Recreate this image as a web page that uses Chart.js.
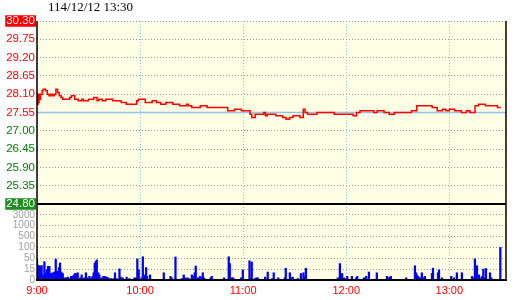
<!DOCTYPE html>
<html>
<head>
<meta charset="utf-8">
<script src="https://cdn.jsdelivr.net/npm/chart.js@4.4.1/dist/chart.umd.min.js"></script>
<style>
    html, body { margin: 0; padding: 0; background: #fff; }
    #wrap { width: 520px; height: 300px; }
</style>
</head>
<body>
<div id="wrap"><canvas id="chart" width="520" height="300"></canvas></div>
<script>
const TITLE = '114/12/12 13:30';
const PREV_CLOSE = 27.55;

// x axis is minutes after 9:00
const hourTicks = [0, 60, 120, 180, 240];
const hourLabels = ['9:00', '10:00', '11:00', '12:00', '13:00'];
const priceTicks = [24.80, 25.35, 25.90, 26.45, 27.00, 27.55, 28.10, 28.65, 29.20, 29.75, 30.30];

// price changes (minute, price)
const priceTimes = [0, 0.3, 0.6, 0.9, 1.2, 1.5, 2, 3, 3.5, 5,
    6, 7, 8, 9, 10, 11, 12, 13, 14, 15,
    19, 20, 22, 24, 26, 27, 30, 33, 35, 36,
    38, 40, 44, 49, 52, 58, 59, 63, 67, 69.5,
    72, 75, 79, 83, 87, 88, 90, 95, 99, 111,
    115, 119, 124, 125, 127, 130, 132, 133, 134, 139,
    143, 145, 147, 149, 153, 155, 156, 157.5, 163, 173,
    184, 186, 188, 196, 198, 202, 205, 208, 218, 221,
    230, 233, 236, 238, 240, 243, 247, 250, 252, 255,
    257, 261, 268, 270];
const priceValues = [28.05, 27.80, 28.10, 27.85, 28.10, 27.95, 28.10, 28.20, 28.25, 28.20,
    28.10, 28.05, 28.10, 28.05, 28.10, 28.25, 28.15, 28.05, 28.00, 27.95,
    28.00, 28.05, 27.95, 27.90, 27.95, 27.90, 27.95, 28.00, 27.90, 27.95,
    27.90, 27.95, 27.90, 27.85, 27.80, 27.90, 27.95, 27.85, 27.90, 27.85,
    27.80, 27.85, 27.80, 27.75, 27.80, 27.75, 27.70, 27.75, 27.70, 27.60,
    27.65, 27.60, 27.50, 27.40, 27.50, 27.50, 27.55, 27.45, 27.50, 27.45,
    27.40, 27.35, 27.40, 27.45, 27.40, 27.65, 27.55, 27.50, 27.55, 27.50,
    27.45, 27.55, 27.60, 27.55, 27.60, 27.55, 27.50, 27.55, 27.60, 27.75,
    27.70, 27.60, 27.65, 27.60, 27.65, 27.60, 27.55, 27.60, 27.55, 27.75,
    27.80, 27.75, 27.70, 27.70];

// volume bars (minute, lots)
const volTimes = [0, 1, 1.7, 2.7, 3.3, 4.3, 4.9, 5.6, 6.4, 7.2,
    8, 8.5, 9.1, 10.1, 10.9, 11.5, 12.2, 12.8, 13.4, 14.2,
    15, 15.9, 16.9, 17.9, 18.8, 19.8, 20.6, 21.4, 22.1, 22.9,
    23.7, 24.3, 25.2, 26, 26.8, 27.6, 28.5, 29.3, 30.5, 31.7,
    32.4, 33, 33.6, 34.2, 34.8, 35.7, 36.3, 37.5, 38.6, 39.6,
    40.6, 41.6, 43.1, 44.7, 45.4, 46.4, 48, 48.7, 49.9, 52.2,
    53.8, 55.3, 56.7, 57.7, 58.4, 59.2, 60.8, 61.6, 62.7, 63.5,
    64.1, 65.8, 73.8, 77.7, 78.4, 80.6,
    84.4, 85.4, 86.2, 86.8, 87.7, 88.3, 90.1, 91.2, 91.8, 92.4,
    93.8, 94.9, 95.5, 96.5, 97.3, 101.1, 101.7, 106.6, 107.7, 108.9,
    111.6, 112.2, 113.4, 114.2, 115.1, 118.8, 119.8, 123.7, 124.4, 125,
    126, 127, 127.7, 128.5, 132.8, 134.3, 136.9, 137.8, 140.4, 144.2,
    144.8, 147.2, 148.1, 148.9, 151.8, 153.6, 155.1, 155.7, 156.5, 157.6,
    164.1, 167.9, 173, 175.1, 176.3, 177.6, 178.6, 179.6, 180.6,
    183.3, 185.8, 186.4, 188.5, 190.3, 191.6, 193.2, 195.5, 197.8, 203.7,
    204.6, 205.2, 206, 214.9, 220, 220.6, 221.1, 221.9, 222.9, 224,
    224.8, 225.8, 226.6, 229.9, 230.5, 233.4, 234, 235.7, 236.9, 238.6,
    241.1, 242.7, 244.4, 245, 247.3, 248.5, 251.6, 253.2, 254.1, 254.9,
    255.5, 256.1, 257.3, 258.6, 259.2, 259.8, 260.4, 261.3, 262.1, 263.7,
    264.5, 269.7];
const volValues = [48, 27, 24, 27, 7, 39, 9, 14, 24, 24,
    9, 7, 10, 11, 47, 12, 11, 20, 35, 11,
    9, 3, 3, 4, 2, 5, 5, 7, 9, 9,
    10, 1, 3, 7, 2, 3, 10, 3, 5, 3,
    5, 10, 34, 40, 45, 10, 7, 3, 5, 5,
    4, 3, 2, 2, 10, 2, 16, 4, 3, 4,
    2, 1, 3, 3, 48, 14, 3, 57, 7, 20,
    5, 7, 10, 5, 3, 56,
    2, 7, 3, 2, 3, 2, 7, 5, 10, 25,
    3, 5, 4, 10, 3, 3, 5, 1, 1, 3,
    57, 33, 3, 3, 1, 3, 14, 42, 3, 38,
    1, 2, 3, 3, 4, 11, 2, 10, 3, 3,
    18, 10, 3, 4, 2, 9, 10, 5, 18, 1,
    1, 1, 1, 3, 33, 9, 3, 2, 5,
    5, 3, 5, 1, 3, 5, 11, 1, 10, 5,
    2, 4, 5, 3, 26, 10, 7, 5, 3, 10,
    3, 5, 1, 9, 18, 10, 14, 3, 1, 1,
    5, 3, 10, 1, 10, 1, 1, 5, 3, 48,
    10, 26, 7, 3, 5, 15, 3, 17, 1, 10,
    3, 100];

// volume axis is piecewise: each tick gets the same height
const volTicks = [0, 15, 50, 100, 500, 1000, 3000, 5000];
const volTickLabels = ['0', '15', '50', '100', '500', '1000', '3000', ''];

const UP_RED = '#ff0000';
const DOWN_GREEN = '#008000';

function volLevel(v) {
    for (let i = 1; i < volTicks.length; i++) {
        if (v <= volTicks[i]) return i - 1 + (v - volTicks[i - 1]) / (volTicks[i] - volTicks[i - 1]);
    }
    return volTicks.length - 1;
}

function hline(ctx, x1, x2, y) {
    ctx.beginPath(); ctx.moveTo(x1, y); ctx.lineTo(x2, y); ctx.stroke();
}
function vline(ctx, x, y1, y2) {
    ctx.beginPath(); ctx.moveTo(x, y1); ctx.lineTo(x, y2); ctx.stroke();
}

const frame = {
    id: 'frame',
    beforeDraw(chart) {
        const { ctx, chartArea: a } = chart;
        ctx.save();
        ctx.fillStyle = '#ffffe6';
        ctx.fillRect(a.left, a.top, a.right - a.left, a.bottom - a.top);
        ctx.restore();
    },
    beforeDatasetsDraw(chart) {
        const { ctx, chartArea: a, scales } = chart;
        ctx.save();
        ctx.strokeStyle = '#8ec3e6';
        ctx.lineWidth = 1.5;
        hline(ctx, a.left, a.right, scales.y.getPixelForValue(PREV_CLOSE));
        ctx.restore();
    },
    afterDatasetsDraw(chart) {
        const { ctx, chartArea: a, scales } = chart;
        ctx.save();
        ctx.strokeStyle = '#000';
        ctx.lineWidth = 2;
        hline(ctx, a.left, a.right, scales.y.getPixelForValue(priceTicks[0]));
        hline(ctx, a.left - 1, a.right + 1, a.bottom);
        ctx.lineWidth = 1.5;
        vline(ctx, a.left, a.top, a.bottom);
        vline(ctx, a.right, a.top, a.bottom);
        ctx.restore();
    },
    afterDraw(chart) {
        const ctx = chart.ctx;
        ctx.save();
        ctx.fillStyle = '#000';
        ctx.font = '13px "Liberation Serif"';
        ctx.textBaseline = 'middle';
        ctx.fillText(TITLE, 48, 8);
        ctx.restore();
    }
};

const clear = 'rgba(0,0,0,0)';

new Chart(document.getElementById('chart'), {
    type: 'line',
    data: {
        datasets: [
            {
                type: 'line',
                data: priceTimes.map((t, i) => ({ x: t, y: priceValues[i] })),
                yAxisID: 'y',
                borderColor: UP_RED,
                borderWidth: 1.5,
                stepped: true,
                pointRadius: 0,
                fill: false,
                order: 1
            },
            {
                type: 'bar',
                data: volTimes.map((t, i) => ({ x: t, y: volLevel(volValues[i]) })),
                yAxisID: 'vol',
                backgroundColor: '#0000ff',
                barThickness: 1.6,
                order: 2
            }
        ]
    },
    options: {
        responsive: false,
        animation: false,
        devicePixelRatio: 1,
        layout: { padding: { left: 0, right: 14, top: 21, bottom: 0 } },
        plugins: { legend: { display: false }, tooltip: { enabled: false } },
        scales: {
            x: {
                type: 'linear',
                min: 0,
                max: 273,
                offset: false,
                afterBuildTicks: s => { s.ticks = hourTicks.map(v => ({ value: v })); },
                afterFit: s => { s.height = 20; },
                grid: { color: '#8cbfe0', offset: false, drawTicks: false },
                border: { display: false, dash: [1, 2] },
                ticks: {
                    autoSkip: false,
                    maxRotation: 0,
                    padding: 4,
                    color: UP_RED,
                    font: { family: 'Liberation Sans', size: 11 },
                    callback: v => hourLabels[hourTicks.indexOf(v)]
                }
            },
            vol: {
                type: 'linear',
                position: 'left',
                stack: 'left',
                stackWeight: 76,
                min: 0,
                max: volTicks.length - 1,
                afterBuildTicks: s => { s.ticks = volTicks.map((v, i) => ({ value: i })); },
                afterFit: s => { s.width = 37; },
                grid: {
                    drawTicks: false,
                    color: c => (c.tick && (c.tick.value === 0 || c.tick.value === volTicks.length - 1)) ? clear : '#999'
                },
                border: { display: false, dash: [1, 2] },
                ticks: {
                    autoSkip: false,
                    padding: 2,
                    color: '#a0a0a0',
                    font: { family: 'Liberation Sans', size: 10, lineHeight: 1 },
                    callback: (v, i) => volTickLabels[i]
                }
            },
            y: {
                type: 'linear',
                position: 'left',
                stack: 'left',
                stackWeight: 183,
                min: priceTicks[0],
                max: priceTicks[priceTicks.length - 1],
                afterBuildTicks: s => { s.ticks = priceTicks.map(v => ({ value: v })); },
                afterFit: s => { s.width = 37; },
                grid: {
                    drawTicks: false,
                    color: c => {
                        if (!c.tick) return '#999';
                        const v = c.tick.value;
                        if (Math.abs(v - PREV_CLOSE) < 0.001 || Math.abs(v - priceTicks[0]) < 0.001) return clear;
                        return '#999';
                    }
                },
                border: { display: false, dash: [1, 2] },
                ticks: {
                    autoSkip: false,
                    padding: 2,
                    font: { family: 'Liberation Sans', size: 11.5, lineHeight: 1 },
                    showLabelBackdrop: c => c.index === 0 || c.index === priceTicks.length - 1,
                    backdropPadding: { top: 0, bottom: 0, left: 1, right: 1 },
                    backdropColor: c => c.index === 0 ? '#1e8c1e' : (c.index === priceTicks.length - 1 ? UP_RED : clear),
                    color: c => {
                        if (c.index === 0 || c.index === priceTicks.length - 1) return '#fff';
                        return c.tick.value >= PREV_CLOSE - 0.001 ? UP_RED : DOWN_GREEN;
                    },
                    callback: v => v.toFixed(2)
                }
            }
        }
    },
    plugins: [frame]
});
</script>
</body>
</html>
